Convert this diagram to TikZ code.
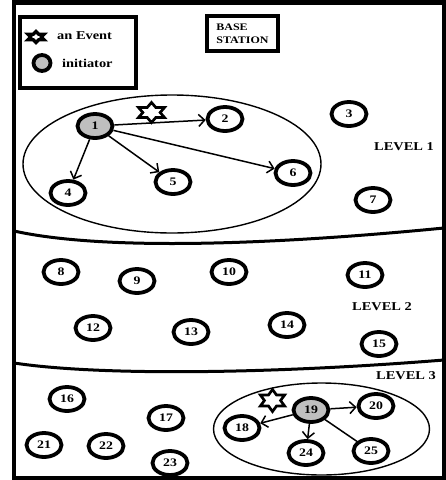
\documentclass[tikz,border=0pt]{standalone}
\usepackage{fontspec}
\setmainfont{Liberation Serif}
\newfontfamily\widefont[FakeStretch=1.2]{Liberation Serif}
\usetikzlibrary{arrows.meta,shapes.geometric}

\begin{document}
\begin{tikzpicture}[x=1pt,y=-1pt,
  sensor/.style={ellipse, draw, line width=3.8pt, minimum width=35pt, minimum height=24pt,
    inner sep=0pt, font=\widefont\bfseries\fontsize{11.5}{12}\selectfont},
  initiator/.style={sensor, fill=black!25},
  msg/.style={line width=1.5pt, -{Straight Barb[length=6pt,width=12pt,line width=1.5pt]}},
  link/.style={line width=1.5pt},
  zone/.style={ellipse, draw, line width=1.4pt, inner sep=0pt},
  levelline/.style={line width=3pt},
  levellabel/.style={font=\widefont\bfseries\fontsize{12}{14}\selectfont, inner sep=0pt},
  legendtext/.style={font=\widefont\bfseries\fontsize{12}{14}\selectfont, inner sep=0pt, anchor=west},
  boxed/.style={draw, line width=4pt, inner sep=0pt},
  hexstar/.pic={\draw[pic actions] (90:1) -- (60:0.577) -- (30:1) -- (0:0.577) -- (-30:1)
      -- (-60:0.577) -- (-90:1) -- (-120:0.577) -- (-150:1) -- (180:0.577) -- (150:1)
      -- (120:0.577) -- cycle;}
]
\useasboundingbox (0,0) rectangle (446,480);

% outer frame
\draw[line width=4.5pt] (14,2.5) rectangle (444,478);

% level boundaries
\draw[levelline] (14,231) .. controls (100,250) and (260,246) .. (444,228);
\draw[levelline] (14,363) .. controls (100,376) and (270,374) .. (444,360);

% legend
\node[boxed, minimum width=116pt, minimum height=71pt] (legend) at (77.5,52.5) {};
\pic[line width=3.2pt, fill=white, xscale=9.5, yscale=5.5] (lstar) at (36,37) {hexstar};
\node[legendtext] (levent) at (57,36) {an Event};
\node[ellipse, draw, line width=3.8pt, fill=black!25, minimum width=17pt, minimum height=16pt] (linit) at (42,63) {};
\node[legendtext] (linittext) at (62,63) {initiator};

% base station
\node[boxed, minimum width=71pt, minimum height=35pt, align=left,
  font=\widefont\bfseries\fontsize{10}{13}\selectfont] (bs) at (242.5,33.5) {BASE\\STATION};

% event areas
\node[zone, minimum width=298pt, minimum height=138pt] (zone1) at (172,164) {};
\node[zone, minimum width=216pt, minimum height=92pt] (zone3) at (321.5,429) {};

% events
\pic[line width=2.7pt, fill=white, xscale=15, yscale=10] (ev1) at (151.5,112.5) {hexstar};
\pic[line width=2.7pt, fill=white, xscale=14, yscale=11] (ev3) at (272.5,400.5) {hexstar};

% level labels
\node[levellabel] (lv1) at (404,147) {LEVEL 1};
\node[levellabel] (lv2) at (382,307) {LEVEL 2};
\node[levellabel] (lv3) at (406,376) {LEVEL 3};

% sensors, level 1
\node[initiator] (n1) at (95,126) {1};
\node[sensor] (n2) at (225,119) {2};
\node[sensor] (n3) at (349,114) {3};
\node[sensor] (n4) at (68,193) {4};
\node[sensor] (n5) at (173,182) {5};
\node[sensor] (n6) at (293,173) {6};
\node[sensor] (n7) at (373,200) {7};
% sensors, level 2
\node[sensor] (n8) at (61,272) {8};
\node[sensor] (n9) at (137,281) {9};
\node[sensor] (n10) at (229,272) {10};
\node[sensor] (n11) at (365,275) {11};
\node[sensor] (n12) at (93,328) {12};
\node[sensor] (n13) at (191,332) {13};
\node[sensor] (n14) at (287,325) {14};
\node[sensor] (n15) at (379,344) {15};
% sensors, level 3
\node[sensor] (n16) at (67,399) {16};
\node[sensor] (n17) at (166,418) {17};
\node[sensor] (n18) at (242,428) {18};
\node[initiator] (n19) at (311,410) {19};
\node[sensor] (n20) at (376,406) {20};
\node[sensor] (n21) at (44,445) {21};
\node[sensor] (n22) at (106,446) {22};
\node[sensor] (n23) at (170,463) {23};
\node[sensor] (n24) at (306,453) {24};
\node[sensor] (n25) at (371,451) {25};

% messages from initiators
\draw[msg] (n1) -- (n2);
\draw[msg] (n1) -- (n4);
\draw[msg] (n1) -- (n5);
\draw[msg] (n1) -- (n6);
\draw[msg] (n19) -- (n20);
\draw[msg] (n19) -- (n18);
\draw[msg] (n19) -- (n24);
\draw[link] (n19) -- (n25);
\end{tikzpicture}
\end{document}
